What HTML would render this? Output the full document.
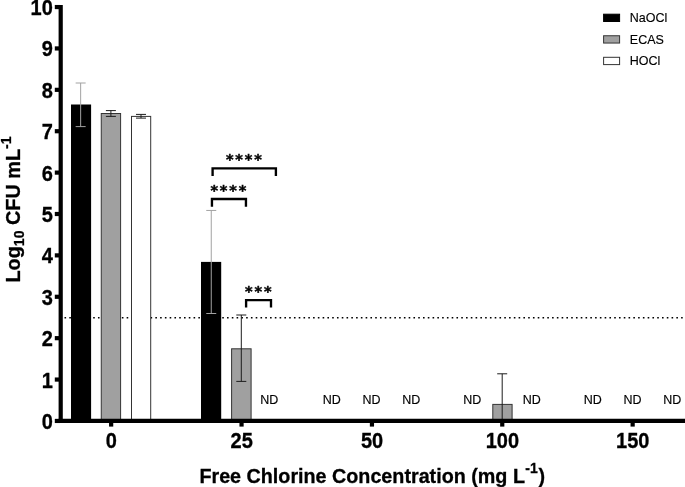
<!DOCTYPE html>
<html lang="en"><head><meta charset="utf-8"><title>Free Chlorine Concentration chart</title>
<style>html,body{margin:0;padding:0;background:#fff}svg{display:block;will-change:transform;transform:translateZ(0)}text{font-family:"Liberation Sans", Arial, Helvetica, sans-serif;fill:#000}</style></head><body>
<svg width="685" height="487" viewBox="0 0 685 487">
<rect width="685" height="487" fill="#fff"/>
<line x1="64.5" y1="317.8" x2="685" y2="317.8" stroke="#000" stroke-width="1.6" stroke-dasharray="1.6 3.18"/>
<rect x="71.00" y="104.50" width="20.10" height="316.35" fill="#000"/>
<rect x="101.25" y="113.50" width="19.35" height="307.85" fill="#a0a0a0" stroke="#343434" stroke-width="1"/>
<rect x="131.50" y="116.40" width="19.20" height="304.95" fill="#fff" stroke="#343434" stroke-width="1"/>
<rect x="201.00" y="261.90" width="20.20" height="158.95" fill="#000"/>
<rect x="231.60" y="348.80" width="19.50" height="72.55" fill="#a0a0a0" stroke="#343434" stroke-width="1"/>
<rect x="492.80" y="404.40" width="19.30" height="16.95" fill="#a0a0a0" stroke="#343434" stroke-width="1"/>
<path d="M80.65,83.00 V126.60 M75.65,83.00 H85.65 M75.65,126.60 H85.65" fill="none" stroke="#a2a2a2" stroke-width="1"/>
<path d="M110.90,110.60 V116.40 M105.90,110.60 H115.90 M105.90,116.40 H115.90" fill="none" stroke="#1c1c1c" stroke-width="1"/>
<path d="M141.00,114.40 V118.10 M136.00,114.40 H146.00 M136.00,118.10 H146.00" fill="none" stroke="#1c1c1c" stroke-width="1"/>
<path d="M211.25,210.45 V313.50 M206.25,210.45 H216.25 M206.25,313.50 H216.25" fill="none" stroke="#a2a2a2" stroke-width="1"/>
<path d="M241.30,315.00 V381.40 M236.30,315.00 H246.30 M236.30,381.40 H246.30" fill="none" stroke="#1c1c1c" stroke-width="1"/>
<path d="M502.20,373.80 V420.00 M497.20,373.80 H507.20" fill="none" stroke="#1c1c1c" stroke-width="1"/>
<path d="M60.7,5.1 V423" stroke="#000" stroke-width="4.2" fill="none"/>
<path d="M58.6,420.9 H685" stroke="#000" stroke-width="4.2" fill="none"/>
<path d="M54.8,420.95 H60" stroke="#000" stroke-width="4.2" fill="none"/>
<path d="M54.8,379.56 H60" stroke="#000" stroke-width="4.2" fill="none"/>
<path d="M54.8,338.17 H60" stroke="#000" stroke-width="4.2" fill="none"/>
<path d="M54.8,296.78 H60" stroke="#000" stroke-width="4.2" fill="none"/>
<path d="M54.8,255.39 H60" stroke="#000" stroke-width="4.2" fill="none"/>
<path d="M54.8,214.00 H60" stroke="#000" stroke-width="4.2" fill="none"/>
<path d="M54.8,172.61 H60" stroke="#000" stroke-width="4.2" fill="none"/>
<path d="M54.8,131.22 H60" stroke="#000" stroke-width="4.2" fill="none"/>
<path d="M54.8,89.83 H60" stroke="#000" stroke-width="4.2" fill="none"/>
<path d="M54.8,48.44 H60" stroke="#000" stroke-width="4.2" fill="none"/>
<path d="M54.8,7.05 H60" stroke="#000" stroke-width="4.2" fill="none"/>
<path d="M111.15,421 V426.6" stroke="#000" stroke-width="4.2" fill="none"/>
<path d="M241.55,421 V426.6" stroke="#000" stroke-width="4.2" fill="none"/>
<path d="M371.95,421 V426.6" stroke="#000" stroke-width="4.2" fill="none"/>
<path d="M502.25,421 V426.6" stroke="#000" stroke-width="4.2" fill="none"/>
<path d="M632.65,421 V426.6" stroke="#000" stroke-width="4.2" fill="none"/>
<text transform="translate(52.8,428.95) scale(1,1.065)" font-size="20" font-weight="bold" stroke="#000" stroke-width="0.3" text-anchor="end">0</text>
<text transform="translate(52.8,387.56) scale(1,1.065)" font-size="20" font-weight="bold" stroke="#000" stroke-width="0.3" text-anchor="end">1</text>
<text transform="translate(52.8,346.17) scale(1,1.065)" font-size="20" font-weight="bold" stroke="#000" stroke-width="0.3" text-anchor="end">2</text>
<text transform="translate(52.8,304.78) scale(1,1.065)" font-size="20" font-weight="bold" stroke="#000" stroke-width="0.3" text-anchor="end">3</text>
<text transform="translate(52.8,263.39) scale(1,1.065)" font-size="20" font-weight="bold" stroke="#000" stroke-width="0.3" text-anchor="end">4</text>
<text transform="translate(52.8,222.00) scale(1,1.065)" font-size="20" font-weight="bold" stroke="#000" stroke-width="0.3" text-anchor="end">5</text>
<text transform="translate(52.8,180.61) scale(1,1.065)" font-size="20" font-weight="bold" stroke="#000" stroke-width="0.3" text-anchor="end">6</text>
<text transform="translate(52.8,139.22) scale(1,1.065)" font-size="20" font-weight="bold" stroke="#000" stroke-width="0.3" text-anchor="end">7</text>
<text transform="translate(52.8,97.83) scale(1,1.065)" font-size="20" font-weight="bold" stroke="#000" stroke-width="0.3" text-anchor="end">8</text>
<text transform="translate(52.8,56.44) scale(1,1.065)" font-size="20" font-weight="bold" stroke="#000" stroke-width="0.3" text-anchor="end">9</text>
<text transform="translate(52.8,15.05) scale(1,1.065)" font-size="20" font-weight="bold" stroke="#000" stroke-width="0.3" text-anchor="end">10</text>
<text transform="translate(111.30,447.8) scale(1,1.065)" font-size="20" font-weight="bold" stroke="#000" stroke-width="0.3" text-anchor="middle">0</text>
<text transform="translate(241.70,447.8) scale(1,1.065)" font-size="20" font-weight="bold" stroke="#000" stroke-width="0.3" text-anchor="middle">25</text>
<text transform="translate(372.10,447.8) scale(1,1.065)" font-size="20" font-weight="bold" stroke="#000" stroke-width="0.3" text-anchor="middle">50</text>
<text transform="translate(502.40,447.8) scale(1,1.065)" font-size="20" font-weight="bold" stroke="#000" stroke-width="0.3" text-anchor="middle">100</text>
<text transform="translate(632.80,447.8) scale(1,1.065)" font-size="20" font-weight="bold" stroke="#000" stroke-width="0.3" text-anchor="middle">150</text>
<text transform="translate(199.4,483.0) scale(0.977,1.04)" font-size="20.2" font-weight="bold" stroke="#000" stroke-width="0.3">Free Chlorine Concentration (mg L<tspan font-size="14.3" dy="-9.6" dx="0.3">-1</tspan><tspan dy="9.6" dx="0.9">)</tspan></text>
<text transform="translate(20.4,282.5) rotate(-90) scale(1,1.04)" font-size="19.85" font-weight="bold" stroke="#000" stroke-width="0.3">Log<tspan font-size="14" dy="3.8">10</tspan><tspan dy="-3.8"> CFU mL</tspan><tspan font-size="14" dy="-9.3">-1</tspan></text>
<rect x="603.6" y="14.20" width="16" height="7.3" fill="#000" stroke="#000" stroke-width="1"/>
<text transform="translate(629.8,22.00) scale(1,1.06)" font-size="12.5" stroke="#000" stroke-width="0.15">NaOCl</text>
<rect x="603.6" y="35.75" width="16" height="7.3" fill="#a0a0a0" stroke="#343434" stroke-width="1"/>
<text transform="translate(629.8,43.55) scale(1,1.06)" font-size="12.5" stroke="#000" stroke-width="0.15">ECAS</text>
<rect x="603.6" y="57.30" width="16" height="7.3" fill="#fff" stroke="#343434" stroke-width="1"/>
<text transform="translate(629.8,65.10) scale(1,1.06)" font-size="12.5" stroke="#000" stroke-width="0.15">HOCl</text>
<text transform="translate(269.30,403.9) scale(1,1.06)" font-size="12.5" stroke="#000" stroke-width="0.15" text-anchor="middle">ND</text>
<text transform="translate(331.80,403.9) scale(1,1.06)" font-size="12.5" stroke="#000" stroke-width="0.15" text-anchor="middle">ND</text>
<text transform="translate(371.50,403.9) scale(1,1.06)" font-size="12.5" stroke="#000" stroke-width="0.15" text-anchor="middle">ND</text>
<text transform="translate(411.20,403.9) scale(1,1.06)" font-size="12.5" stroke="#000" stroke-width="0.15" text-anchor="middle">ND</text>
<text transform="translate(472.20,403.9) scale(1,1.06)" font-size="12.5" stroke="#000" stroke-width="0.15" text-anchor="middle">ND</text>
<text transform="translate(531.80,403.9) scale(1,1.06)" font-size="12.5" stroke="#000" stroke-width="0.15" text-anchor="middle">ND</text>
<text transform="translate(592.80,403.9) scale(1,1.06)" font-size="12.5" stroke="#000" stroke-width="0.15" text-anchor="middle">ND</text>
<text transform="translate(632.40,403.9) scale(1,1.06)" font-size="12.5" stroke="#000" stroke-width="0.15" text-anchor="middle">ND</text>
<text transform="translate(672.20,403.9) scale(1,1.06)" font-size="12.5" stroke="#000" stroke-width="0.15" text-anchor="middle">ND</text>
<path d="M212.6,176 V168.3 H275.9 V176" fill="none" stroke="#000" stroke-width="2.35"/>
<path d="M211.95,206.8 V199 H245.95 V206.8" fill="none" stroke="#000" stroke-width="2.35"/>
<path d="M246.1,307.4 V300.1 H271 V307.4" fill="none" stroke="#000" stroke-width="2.35"/>
<text x="225.90" y="163.80" font-size="14.5" font-weight="bold" stroke="#000" stroke-width="0.5" letter-spacing="1.88" style="font-family:'DejaVu Sans','Liberation Sans',sans-serif">****</text>
<text x="210.40" y="194.50" font-size="14.5" font-weight="bold" stroke="#000" stroke-width="0.5" letter-spacing="1.88" style="font-family:'DejaVu Sans','Liberation Sans',sans-serif">****</text>
<text x="245.00" y="295.60" font-size="14.5" font-weight="bold" stroke="#000" stroke-width="0.5" letter-spacing="1.88" style="font-family:'DejaVu Sans','Liberation Sans',sans-serif">***</text>
</svg></body></html>
